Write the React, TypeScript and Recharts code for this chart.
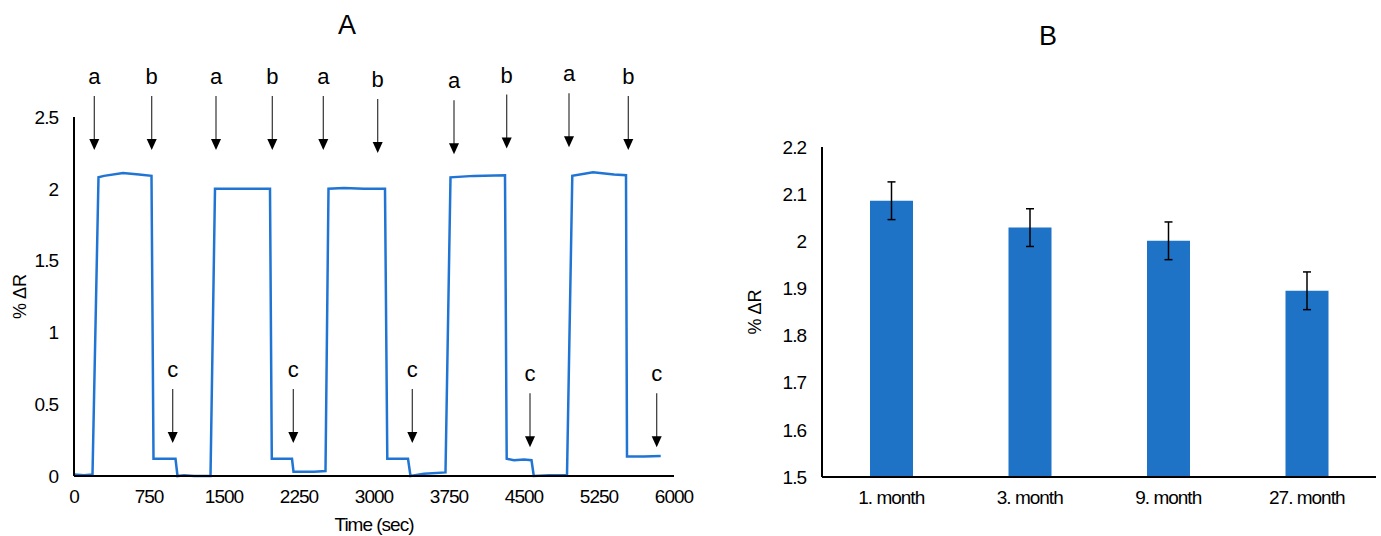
import React from 'react';
import {
  ComposedChart, Line, Scatter, BarChart, Bar, ErrorBar, XAxis, YAxis,
} from 'recharts';

// Panel A: sensor response over time (sec, %ΔR)
const times = [
  0, 100, 185, 245, 300, 490, 650, 775, 795, 1015, 1035, 1100, 1200, 1365,
  1410, 1600, 1800, 1960, 1978, 2180, 2195, 2400, 2515, 2545, 2700, 2900, 3110,
  3133, 3340, 3365, 3500, 3715, 3765, 4000, 4310, 4327, 4400, 4500, 4575, 4598,
  4750, 4930, 4983, 5190, 5400, 5520, 5530, 5700, 5867,
];
const response = [
  0.01, 0.005, 0.01, 2.08, 2.09, 2.11, 2.1, 2.09, 0.12, 0.12, 0.0, 0.005, 0.0, 0.0,
  2.0, 2.0, 2.0, 2.0, 0.12, 0.12, 0.03, 0.03, 0.035, 2.0, 2.005, 2.0, 2.0,
  0.12, 0.12, 0.0, 0.015, 0.025, 2.08, 2.09, 2.095, 0.12, 0.11, 0.115, 0.11, 0.0,
  0.005, 0.005, 2.09, 2.115, 2.1, 2.095, 0.135, 0.135, 0.14,
];
const timeTicks = [0, 750, 1500, 2250, 3000, 3750, 4500, 5250, 6000];
const responseTicks = [0, 0.5, 1, 1.5, 2, 2.5];

// arrows: a = gas on, b = gas off, c = recovery
const markerLabels = ['a', 'b', 'a', 'b', 'a', 'b', 'a', 'b', 'a', 'b', 'c', 'c', 'c', 'c', 'c'];
const markerTimes = [203, 777, 1420, 1983, 2493, 3037, 3800, 4327, 4950, 5543, 987, 2193, 3383, 4560, 5827];
const markerTips = [2.27, 2.27, 2.27, 2.27, 2.27, 2.25, 2.24, 2.28, 2.29, 2.27, 0.23, 0.23, 0.23, 0.2, 0.2];

// Panel B: response after storage
const months = ['1. month', '3. month', '9. month', '27. month'];
const meanResponse = [2.086, 2.029, 2.001, 1.895];
const responseError = [0.04, 0.04, 0.04, 0.04];
const barTicks = [1.5, 1.6, 1.7, 1.8, 1.9, 2.0, 2.1, 2.2];

const lineData = times.map((t, i) => ({ t, v: response[i] }));
const markerData = markerTimes.map((t, i) => ({ t, v: markerTips[i], label: markerLabels[i] }));
const barData = months.map((m, i) => ({ month: m, value: meanResponse[i], err: responseError[i] }));

const font = '"Liberation Sans", Arial, sans-serif';
const tickStyle = { fontSize: 19, fill: '#000', fontFamily: font, letterSpacing: -1 };
const labelStyle = { fontSize: 18, fill: '#000', fontFamily: font, textAnchor: 'middle' as const };
const axisLine = { stroke: '#000', strokeWidth: 2 };

function Arrow(props: any) {
  const { cx, cy, payload } = props;
  if (cx == null || cy == null) return null;
  return (
    <g>
      <line x1={cx} y1={cy - 54} x2={cx} y2={cy - 10} stroke="#333" strokeWidth={1.2} />
      <polygon points={`${cx - 5},${cy - 11} ${cx + 5},${cy - 11} ${cx},${cy}`} fill="#000" />
      <text x={cx} y={cy - 66} textAnchor="middle" fontSize={22} fontFamily={font} fill="#000">
        {payload.label}
      </text>
    </g>
  );
}

const titleStyle: React.CSSProperties = {
  position: 'absolute', fontFamily: font, fontSize: 27, color: '#000', lineHeight: '30px',
};

export default function App() {
  return (
    <div style={{ position: 'absolute', left: 0, top: 0, width: 1381, height: 536, background: '#fff' }}>
      <div style={{ ...titleStyle, left: 338, top: 10 }}>A</div>
      <div style={{ ...titleStyle, left: 1039, top: 21 }}>B</div>

      <div style={{ position: 'absolute', left: 0, top: 0 }}>
        <ComposedChart
          width={700}
          height={536}
          data={lineData}
          margin={{ top: 117, right: 26, bottom: 0, left: 0 }}
        >
          <XAxis
            dataKey="t"
            type="number"
            domain={[0, 6000]}
            ticks={timeTicks}
            tick={tickStyle}
            tickLine={false}
            tickSize={6}
            tickMargin={8}
            axisLine={axisLine}
            height={60}
            label={{ value: 'Time (sec)', position: 'insideBottom', offset: 5, style: { ...tickStyle, textAnchor: 'middle' } }}
          />
          <YAxis
            type="number"
            domain={[0, 2.5]}
            ticks={responseTicks}
            tick={tickStyle}
            tickLine={false}
            tickSize={6}
            tickMargin={10}
            axisLine={axisLine}
            width={74}
            label={{ value: '% ΔR', angle: -90, position: 'insideLeft', offset: 20, style: labelStyle }}
          />
          <Line
            type="linear"
            dataKey="v"
            stroke="#2075d4"
            strokeWidth={2.5}
            dot={false}
            isAnimationActive={false}
          />
          <Scatter data={markerData} dataKey="v" shape={<Arrow />} isAnimationActive={false} />
        </ComposedChart>
      </div>

      <div style={{ position: 'absolute', left: 700, top: 0 }}>
        <BarChart
          width={681}
          height={536}
          data={barData}
          margin={{ top: 147, right: 5, bottom: 0, left: 0 }}
        >
          <XAxis
            dataKey="month"
            tick={tickStyle}
            tickLine={false}
            tickSize={6}
            tickMargin={8}
            axisLine={axisLine}
            height={59}
          />
          <YAxis
            type="number"
            domain={[1.5, 2.2]}
            ticks={barTicks}
            tick={tickStyle}
            tickFormatter={(v) => String(v)}
            tickLine={false}
            tickSize={6}
            tickMargin={10}
            axisLine={axisLine}
            width={122}
            allowDataOverflow
            label={{ value: '% ΔR', angle: -90, position: 'insideLeft', offset: 55, style: labelStyle }}
          />
          <Bar dataKey="value" fill="#1f73c7" barSize={43} isAnimationActive={false}>
            <ErrorBar dataKey="err" width={4} stroke="#000" strokeWidth={1.5} />
          </Bar>
        </BarChart>
      </div>
    </div>
  );
}
